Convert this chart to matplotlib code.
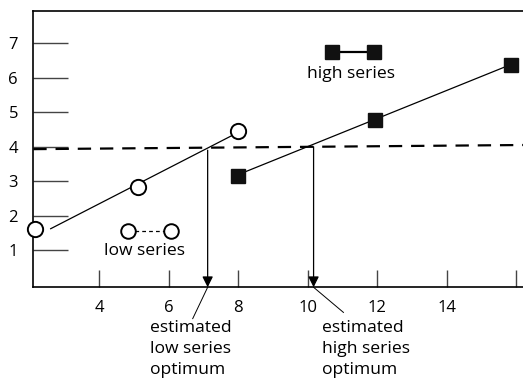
import matplotlib
matplotlib.use("Agg")
import matplotlib.pyplot as plt

# observed points
low_x = [2.15, 5.1, 8.0]
low_y = [1.62, 2.82, 4.46]
high_x = [8.0, 11.93, 15.86]
high_y = [3.16, 4.78, 6.38]

# fitted lines (end points)
low_fit_x = [2.6, 7.85]
low_fit_y = [1.62, 4.34]
high_fit_x = [8.0, 15.86]
high_fit_y = [3.19, 6.39]

# dashed target level
target_x = [2.1, 16.2]
target_y = [3.93, 4.05]

# estimated optima
opt_x = [7.12, 10.17]
opt_top = [3.9, 4.0]
opt_labels = ["estimated\nlow series\noptimum", "estimated\nhigh series\noptimum"]

x_ticks = [4, 6, 8, 10, 12, 14, 16]
x_ticklabels = ["4", "6", "8", "10", "12", "14", ""]
y_ticks = [1, 2, 3, 4, 5, 6, 7]

plt.rcParams['font.family'] = ['Open Sans', 'DejaVu Sans']
FS = 12
TS = 12.6

fig = plt.figure(figsize=(5.23, 3.81), dpi=100)
ax = fig.add_axes([0.0637, 0.246, 0.9363, 0.726])
ax.set_xlim(2.1, 16.2)
ax.set_ylim(-0.08, 7.95)
ax.spines['right'].set_visible(False)
for s in ['left', 'bottom', 'top']:
    ax.spines[s].set_linewidth(1.2)

ax.set_xticks(x_ticks)
ax.set_xticklabels(x_ticklabels)
ax.set_yticks(y_ticks)
ax.tick_params(axis='x', direction='in', length=12, width=1, color='#444', pad=9, labelsize=FS)
ax.tick_params(axis='y', direction='in', length=25, width=1, color='#444', pad=11, labelsize=FS)

# dashed line
ax.plot(target_x, target_y, color='black', lw=1.6, dashes=(6, 4))

# fits
ax.plot(low_fit_x, low_fit_y, color='black', lw=0.9)
ax.plot(high_fit_x, high_fit_y, color='black', lw=0.9)

# points
ax.plot(low_x, low_y, 'o', ms=11, mfc='white', mec='black', mew=1.4, clip_on=False, zorder=5)
ax.plot(high_x, high_y, 's', ms=9.5, color='#111111', clip_on=False, zorder=5)

# arrows down to the x-axis
for xo, yt in zip(opt_x, opt_top):
    ax.annotate("", xy=(xo, -0.08), xytext=(xo, yt),
                arrowprops=dict(arrowstyle='-|>', color='black', lw=0.9,
                                mutation_scale=16, shrinkA=0, shrinkB=0))

# connector lines and labels below axis
ax.plot([opt_x[0], 6.69], [-0.08, -0.99], color='black', lw=0.7, clip_on=False)
ax.plot([opt_x[1], 11.03], [-0.08, -0.81], color='black', lw=0.7, clip_on=False)
ax.text(5.47, -1.02, opt_labels[0], ha='left', va='top', fontsize=TS, linespacing=1.45, clip_on=False)
ax.text(10.42, -1.02, opt_labels[1], ha='left', va='top', fontsize=TS, linespacing=1.45, clip_on=False)

# legend-like keys
ax.plot([4.82, 6.07], [1.55, 1.55], color='black', lw=0.9, dashes=(3, 2.5))
ax.plot([4.82, 6.07], [1.55, 1.55], 'o', ms=10.5, mfc='white', mec='black', mew=1.4, ls='none')
ax.text(5.3, 0.85, "low series", ha='center', va='baseline', fontsize=TS)

ax.plot([10.7, 11.92], [6.74, 6.74], color='black', lw=1.6)
ax.plot([10.7, 11.92], [6.74, 6.74], 's', ms=9.5, color='#111111', ls='none')
ax.text(11.24, 6.0, "high series", ha='center', va='baseline', fontsize=TS)

fig.savefig("out.png", dpi=100)
